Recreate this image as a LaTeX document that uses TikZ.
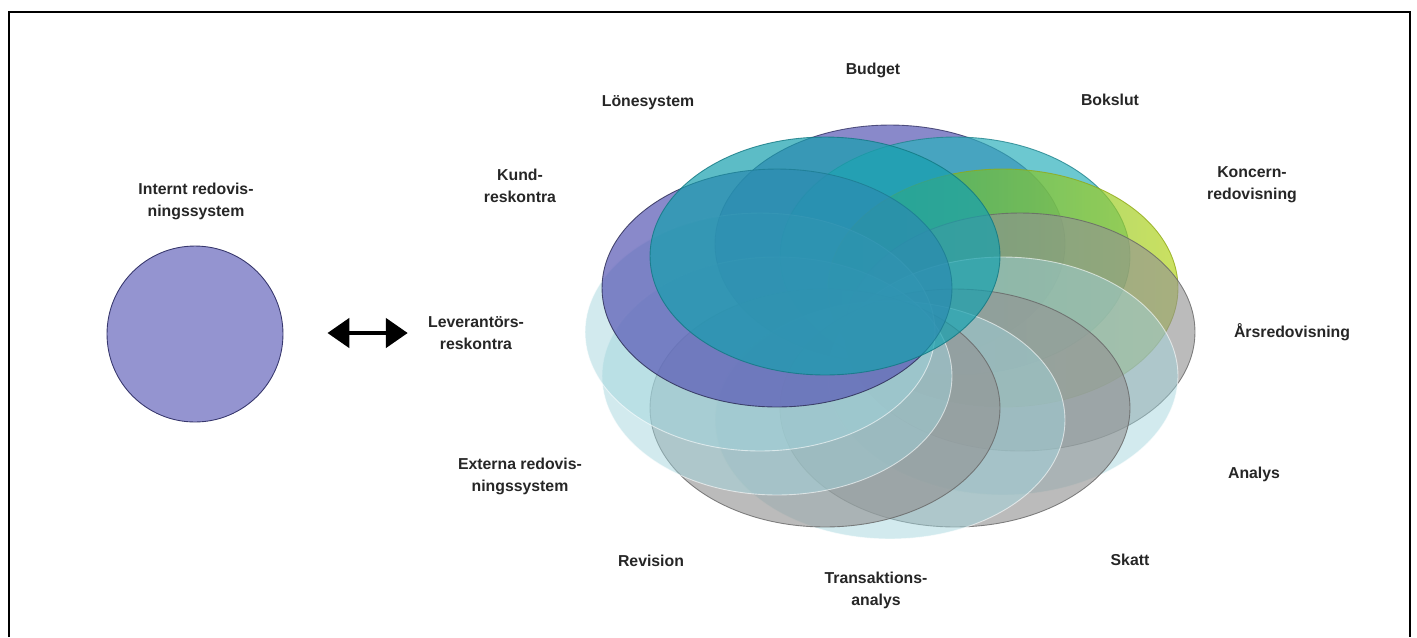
\documentclass[tikz,border=0pt]{standalone}
\usepackage{fontspec}
\setmainfont{Liberation Sans}
\usetikzlibrary{arrows.meta,positioning,shapes.geometric}

\definecolor{ringpurple}{HTML}{5B5BB6}
\definecolor{ringteal}{HTML}{17A0AE}
\definecolor{ringcyan}{HTML}{2DB0BC}
\definecolor{ringgreen}{HTML}{3FAE45}
\definecolor{ringlime}{HTML}{B5D41E}
\definecolor{ringgray}{HTML}{929292}
\definecolor{ringpale}{HTML}{A0D4DC}
\definecolor{labtext}{HTML}{262626}

\begin{document}
\begin{tikzpicture}[x=0.02cm,y=-0.02cm,
            lab/.style={font=\bfseries\fontsize{9}{12.5}\selectfont,text=labtext,align=center,inner sep=0},
            ring/.style={ellipse,minimum width=7cm,minimum height=4.76cm,inner sep=0,line width=0.5pt,draw opacity=0.8},
            purplering/.style={ring,fill=ringpurple,fill opacity=0.72,draw=ringpurple!55!black},
            tealring/.style={ring,fill=ringteal,fill opacity=0.7,draw=ringteal!75!black},
            cyanring/.style={ring,fill=ringcyan,fill opacity=0.7,draw=ringcyan!75!black},
            greenring/.style={ring,left color=ringgreen,right color=ringlime,fill opacity=0.7,draw=ringlime!80!black},
            grayring/.style={ring,fill=ringgray,fill opacity=0.62,draw=ringgray!70!black},
            palering/.style={ring,fill=ringpale,fill opacity=0.48,draw=white,draw opacity=0.6},
            twohead/.style={draw,line width=2.8pt,{Triangle[length=0.44cm,width=0.58cm]}-{Triangle[length=0.44cm,width=0.58cm]}}
          ]
          \useasboundingbox (0,0) rectangle (1417,637);
          \draw[line width=1.4pt] (9,637) -- (9,12) -- (1410,12) -- (1410,637);

          %single system
          \node[circle,minimum size=3.52cm,inner sep=0,fill=ringpurple!65,draw=ringpurple!60!black,line width=0.5pt] (circ) at (195,334) {};
          \node[lab] (intern) at (196,201) {Internt redovis-\\ningssystem};

          %rings
          \node[purplering] (rbudget) at (890,244) {};
          \node[cyanring] (rbokslut) at (955,256) {};
          \node[greenring] (rkoncern) at (1003,288) {};
          \node[grayring] (rars) at (1020,332) {};
          \node[palering] (ranalys) at (1003,376) {};
          \node[grayring] (rskatt) at (955,408) {};
          \node[palering] (rtrans) at (890,420) {};
          \node[grayring] (rrevision) at (825,408) {};
          \node[palering] (rexterna) at (777,376) {};
          \node[palering] (rlev) at (760,332) {};
          \node[purplering,draw=ringpurple!45!black] (rkund) at (777,288) {};
          \node[tealring] (rlon) at (825,256) {};

          %labels
          \node[lab] (budget) at (873,70) {Budget};
          \node[lab] (bokslut) at (1110,100) {Bokslut};
          \node[lab] (koncern) at (1252,185) {Koncern-\\redovisning};
          \node[lab] (ars) at (1292,332) {Årsredovisning};
          \node[lab] (analys) at (1254,474) {Analys};
          \node[lab] (skatt) at (1130,560) {Skatt};
          \node[lab] (trans) at (876,590) {Transaktions-\\analys};
          \node[lab] (revision) at (651,561) {Revision};
          \node[lab] (externa) at (520,476) {Externa redovis-\\ningssystem};
          \node[lab] (lev) at (476,333) {Leverantörs-\\reskontra};
          \node[lab] (kund) at (520,186) {Kund-\\reskontra};
          \node[lab] (lon) at (648,103) {Lönesystem};

          \path
          (circ.east |- lev.west) edge[twohead,shorten <=0.88cm,shorten >=0.4cm] (lev.west)
          ;

      \end{tikzpicture}
\end{document}
